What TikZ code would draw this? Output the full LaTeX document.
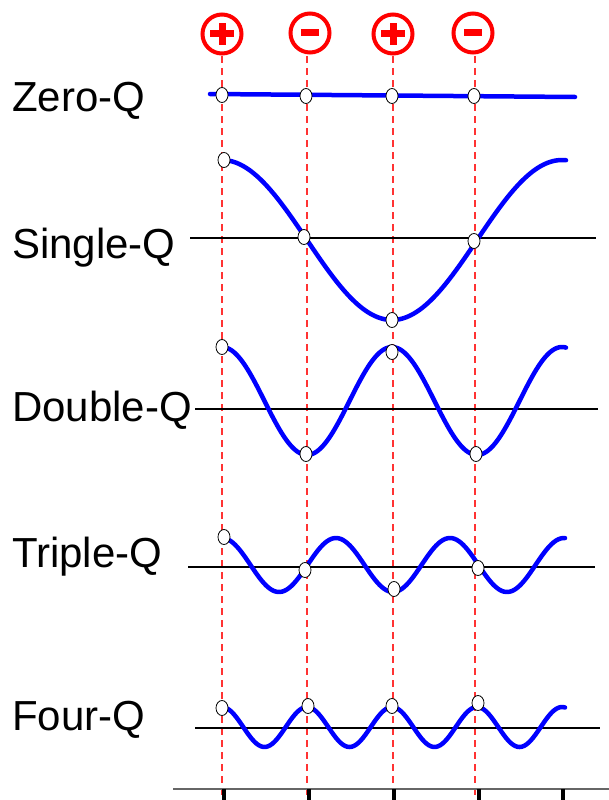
\documentclass[tikz,border=0pt]{standalone}
\usepackage{fontspec}
\setmainfont{Liberation Sans}
\usetikzlibrary{shapes.geometric}
\begin{document}
\begin{tikzpicture}[x=1pt,y=-1pt,
  lbl/.style={anchor=west,inner sep=0pt,font=\fontsize{42}{42}\selectfont},
  mk/.style={ellipse,draw=black,fill=white,line width=0.8pt,minimum width=12pt,minimum height=15pt,inner sep=0pt},
  wave/.style={draw=blue,line width=4.5pt,line cap=round},
  axis/.style={draw=black,line width=1.2pt},
  guide/.style={draw=red!80,line width=1.1pt,dash pattern=on 7pt off 5pt},
  sign/.style={circle,draw=red,line width=4pt,minimum size=39pt,inner sep=0pt},
  tick/.style={draw=black,line width=4pt}]
\useasboundingbox (0,0) rectangle (609,800);
% guides
\foreach \x/\n in {222/a,307/b,393/c,475/d}{
  \coordinate (gt\n) at (\x,56);
  \coordinate (gb\n) at (\x,800);
  \draw[guide] (gt\n) -- (gb\n);
}
% sign circles
\node[sign] (s1) at (222,34) {};
\node[sign] (s2) at (310,33) {};
\node[sign] (s3) at (393,34) {};
\node[sign] (s4) at (473,33) {};
\foreach \s in {s1,s3}{
  \fill[red] ([xshift=-12pt,yshift=3.5pt]\s.center) rectangle ([xshift=12pt,yshift=-3.5pt]\s.center);
  \fill[red] ([xshift=-3.5pt,yshift=11pt]\s.center) rectangle ([xshift=3.5pt,yshift=-11pt]\s.center);
}
\foreach \s in {s2,s4}{
  \fill[red] ([xshift=-9pt,yshift=3.5pt]\s.center) rectangle ([xshift=9pt,yshift=-3.5pt]\s.center);
}
% labels
\node[lbl] (l0) at (12,101) {Zero-Q};
\node[lbl] (l1) at (12,248) {Single-Q};
\node[lbl] (l2) at (12,410) {Double-Q};
\node[lbl] (l3) at (12,557) {Triple-Q};
\node[lbl] (l4) at (12,720) {Four-Q};
% axes
\coordinate (a1l) at (190,238); \coordinate (a1r) at (596,238);
\coordinate (a2l) at (195,409); \coordinate (a2r) at (598,409);
\coordinate (a3l) at (188,567); \coordinate (a3r) at (595,567);
\coordinate (a4l) at (195,728); \coordinate (a4r) at (600,728);
\foreach \i in {1,2,3,4}{\draw[axis] (a\i l) -- (a\i r);}
% Zero-Q
\coordinate (z0) at (210,94); \coordinate (z1) at (575,97);
\draw[wave] (z0) -- (z1);
% Single-Q
\draw[wave] plot[domain=227:566,samples=150] (\x,{240-80*cos((\x-222)/340*360)});
% Double-Q
\draw[wave] plot[domain=227:566,samples=150] (\x,{401-54*cos((\x-222)/170*360)});
% Triple-Q
\draw[wave] plot[domain=228:565,samples=150] (\x,{565-27*cos((\x-222)/114*360)});
% Four-Q
\draw[wave] plot[domain=227:565,samples=150] (\x,{727-20*cos((\x-222)/85*360)});
% markers
\node[mk] (m01) at (222,95) {};
\node[mk] (m02) at (306,96) {};
\node[mk] (m03) at (392,96) {};
\node[mk] (m04) at (474,96) {};
\node[mk] (m11) at (224,160) {};
\node[mk] (m12) at (304,237) {};
\node[mk] (m13) at (392,320) {};
\node[mk] (m14) at (474,241) {};
\node[mk] (m21) at (222,347) {};
\node[mk] (m22) at (306,454) {};
\node[mk] (m23) at (392,352) {};
\node[mk] (m24) at (476,454) {};
\node[mk] (m31) at (224,537) {};
\node[mk] (m32) at (305,570) {};
\node[mk] (m33) at (394,589) {};
\node[mk] (m34) at (478,568) {};
\node[mk] (m41) at (222,708) {};
\node[mk] (m42) at (308,706) {};
\node[mk] (m43) at (392,706) {};
\node[mk] (m44) at (478,703) {};
% bottom axis
\coordinate (bl) at (173,789); \coordinate (br) at (609,789);
\draw[draw=black!60,line width=1.2pt] (bl) -- (br);
\foreach \x/\n in {224/1,309/2,394/3,479/4,563/5}{
  \coordinate (t\n a) at (\x,789); \coordinate (t\n b) at (\x,800);
  \draw[tick] (t\n a) -- (t\n b);
}
\end{tikzpicture}
\end{document}
